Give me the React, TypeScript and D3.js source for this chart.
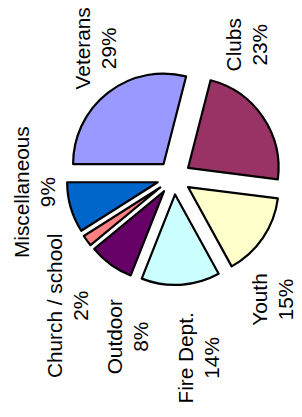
import { useEffect, useRef } from 'react';
import * as d3 from 'd3';

// slice data, in drawing order (clockwise, starting at 9 o'clock)
const categories = ['Veterans', 'Clubs', 'Youth', 'Fire Dept.', 'Outdoor', 'Church / school', 'Miscellaneous'];
const shares = [29, 23, 15, 14, 8, 2, 9];
const sliceColors = ['#9999FF', '#993366', '#FFFFCC', '#CCFFFF', '#660066', '#FF8080', '#0066CC'];

// where each label block sits, as compass angle (deg) and distance from the pie centre
const labelAngles = [328.8, 28.5, 141, 172.4, 196.4, 219.8, 264];
const labelDistances = [151, 151, 157, 182, 166, 167, 140];

const App = () => {
  const svgRef = useRef<SVGSVGElement>(null);

  useEffect(() => {
    if (!svgRef.current) {
      return;
    }

    const width = 302;
    const height = 417;
    const cx = 174;
    const cy = 177.5;
    const radius = 90.5;
    const explode = 17;
    const fontSize = 20.8;
    const lineGap = 26;

    const svg = d3.select(svgRef.current);
    svg.selectAll('*').remove();
    svg.attr('width', width).attr('height', height);

    const g = svg.append('g').attr('transform', `translate(${cx},${cy})`);

    type Row = { name: string; value: number; color: string; la: number; ld: number };
    const rows: Row[] = categories.map((name, i) => ({
      name,
      value: shares[i],
      color: sliceColors[i],
      la: labelAngles[i],
      ld: labelDistances[i],
    }));

    const pie = d3
      .pie<Row>()
      .sort(null)
      .value((d) => d.value)
      .startAngle(-Math.PI / 2)
      .endAngle((3 * Math.PI) / 2);

    const arc = d3.arc<d3.PieArcDatum<Row>>().innerRadius(0).outerRadius(radius);

    const arcs = pie(rows);

    g.selectAll('path')
      .data(arcs)
      .enter()
      .append('path')
      .attr('transform', (d) => {
        const mid = (d.startAngle + d.endAngle) / 2;
        const [ox, oy] = d3.pointRadial(mid, explode);
        return `translate(${ox},${oy})`;
      })
      .attr('d', arc)
      .attr('fill', (d) => d.data.color)
      .attr('stroke', '#000')
      .attr('stroke-width', 2.2)
      .attr('stroke-linejoin', 'round');

    const labels = g
      .selectAll<SVGGElement, d3.PieArcDatum<Row>>('g.label')
      .data(arcs)
      .enter()
      .append('g')
      .attr('class', 'label')
      .attr('transform', (d) => {
        const [lx, ly] = d3.pointRadial((d.data.la * Math.PI) / 180, d.data.ld);
        return `translate(${lx},${ly}) rotate(-90)`;
      })
      .style('font-family', '"Liberation Sans", Arial, sans-serif')
      .style('font-size', `${fontSize}px`)
      .attr('text-anchor', 'middle')
      .attr('fill', '#000');

    labels
      .append('text')
      .attr('y', -lineGap / 2)
      .attr('dy', '0.36em')
      .text((d) => d.data.name);

    labels
      .append('text')
      .attr('y', lineGap / 2)
      .attr('dy', '0.36em')
      .text((d) => `${d.data.value}%`);
  }, []);

  return (
    <div style={{ position: 'absolute', left: 0, top: 0, background: '#fff' }}>
      <svg ref={svgRef} style={{ display: 'block' }} />
    </div>
  );
};

export default App;
